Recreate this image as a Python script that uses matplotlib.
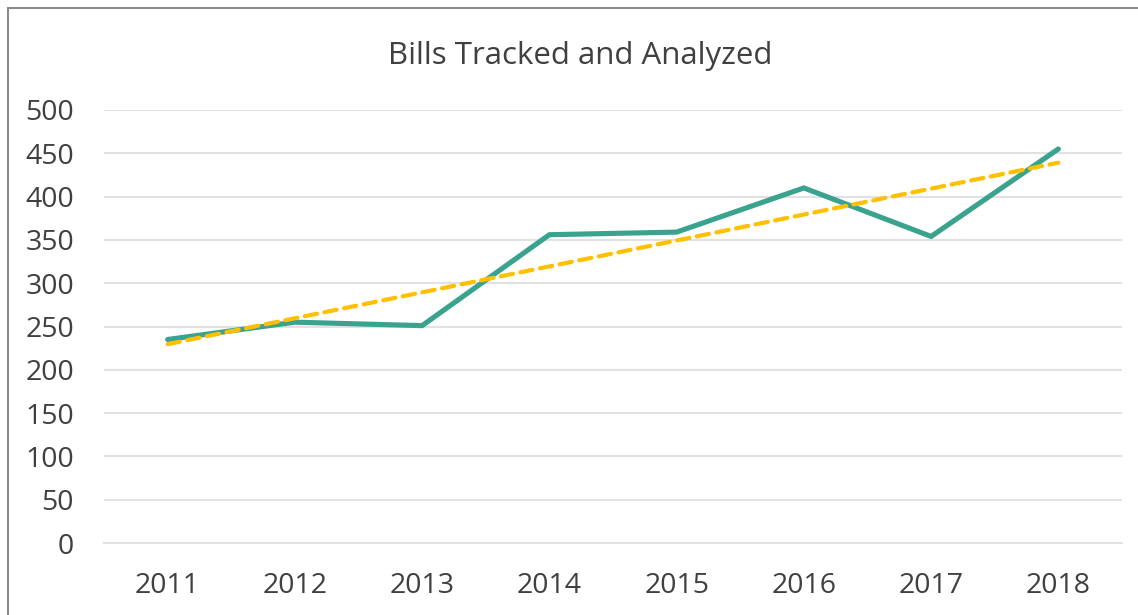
import matplotlib.pyplot as plt
import numpy as np
from matplotlib.patches import Rectangle

plt.rcParams['font.family'] = ['Open Sans', 'DejaVu Sans']

years = ['2011', '2012', '2013', '2014', '2015', '2016', '2017', '2018']
bills = [235, 255, 251, 356, 359, 410, 354, 455]
yTicks = [0, 50, 100, 150, 200, 250, 300, 350, 400, 450, 500]

textColor = '#404040'
lineColor = '#3AA38E'
trendColor = '#FFC000'
gridColor = '#e2e2e2'

fig = plt.figure(figsize=(11.38, 6.15), dpi=100)
fig.patch.set_facecolor('white')

# outer chart border (only top and left visible in the crop)
fig.patches.append(Rectangle((8 / 1138, -0.1), 1.2, 1 - 8 / 615 + 0.1,
                             transform=fig.transFigure, fill=False,
                             edgecolor='#8c8c8c', linewidth=1.5))

ax = fig.add_axes([104 / 1138, 1 - 543 / 615, (1122 - 104) / 1138, (543 - 110) / 615])
ax.set_facecolor('none')

x = np.arange(len(years))
ax.plot(x, bills, color=lineColor, linewidth=3.7, solid_capstyle='round',
        solid_joinstyle='miter', zorder=3)

# linear trendline
k, b = np.polyfit(x, bills, 1)
ax.plot(x[[0, -1]], k * x[[0, -1]] + b, color=trendColor, linewidth=3.0,
        dashes=(3, 1.8), dash_capstyle='round', zorder=4)

ax.set_xlim(-0.5, len(years) - 0.5)
ax.set_ylim(0, 500)
ax.set_xticks(x)
ax.set_xticklabels(years)
ax.set_yticks(yTicks)
ax.yaxis.grid(True, color=gridColor, linewidth=1.5)
ax.set_axisbelow(True)
for s in ax.spines.values():
    s.set_visible(False)
ax.spines['bottom'].set_visible(True)
ax.spines['bottom'].set_color(gridColor)
ax.spines['bottom'].set_linewidth(1.5)
ax.tick_params(length=0, labelsize=20.5, labelcolor=textColor)
ax.tick_params(axis='x', pad=21)
ax.tick_params(axis='y', pad=21.5)
for lbl in ax.get_yticklabels():
    lbl.set_horizontalalignment('right')

fig.text(580 / 1138, 1 - 56 / 615, 'Bills Tracked and Analyzed', ha='center',
         va='center', fontsize=22.5, color=textColor)

plt.savefig('out.png', dpi=100)
